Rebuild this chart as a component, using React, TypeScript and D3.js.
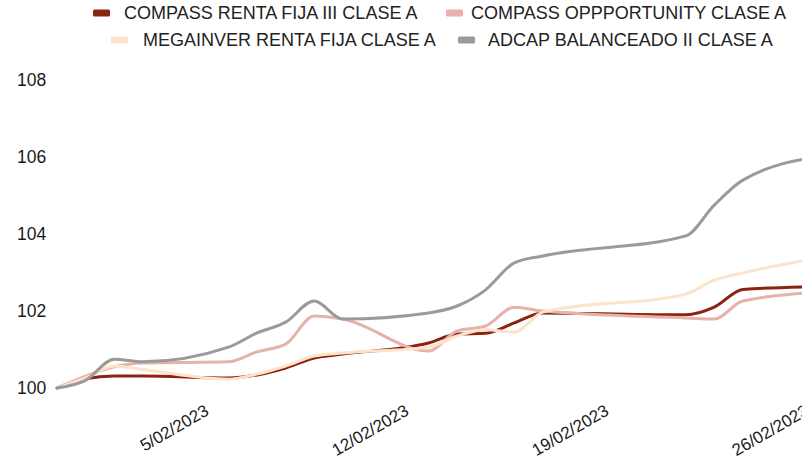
import React from 'react';
import { scaleLinear, scaleTime, line, curveMonotoneX, timeFormat } from 'd3';

const W = 802;
const H = 460;

// business days (Argentina, carnival 20-21/02 closed)
const dates = [
  '2023-01-31', '2023-02-01', '2023-02-02', '2023-02-03', '2023-02-06',
  '2023-02-07', '2023-02-08', '2023-02-09', '2023-02-10', '2023-02-13',
  '2023-02-14', '2023-02-15', '2023-02-16', '2023-02-17', '2023-02-22',
  '2023-02-23', '2023-02-24', '2023-02-27',
];

const compassRentaFija = [
  100, 100.24, 100.31, 100.31, 100.26, 100.34, 100.52, 100.78, 100.88, 101.17,
  101.4, 101.42, 101.69, 101.95, 101.9, 102.1, 102.56, 102.64,
];
const compassOpportunity = [
  100, 100.31, 100.55, 100.65, 100.68, 100.94, 101.14, 101.87, 101.79, 100.96,
  101.48, 101.61, 102.1, 102.0, 101.82, 101.79, 102.26, 102.5,
];
const megainver = [
  100, 100.26, 100.57, 100.48, 100.23, 100.36, 100.57, 100.83, 100.91, 101.06,
  101.35, 101.51, 101.45, 101.97, 102.44, 102.8, 102.99, 103.42,
];
const adcap = [
  100, 100.2, 100.75, 100.68, 101.06, 101.43, 101.71, 102.26, 101.79, 101.95,
  102.13, 102.55, 103.25, 103.43, 103.95, 104.75, 105.4, 106.05,
];

const seriesNames = [
  'COMPASS RENTA FIJA III CLASE A',
  'COMPASS OPPPORTUNITY CLASE A',
  'MEGAINVER RENTA FIJA CLASE A',
  'ADCAP BALANCEADO II CLASE A',
];
const seriesColors = ['#8b2311', '#e6b2a9', '#fce3ca', '#9a9a9a'];
const seriesValues = [compassRentaFija, compassOpportunity, megainver, adcap];

const yTicks = [100, 102, 104, 106, 108];
const xTicks = ['2023-02-05', '2023-02-12', '2023-02-19', '2023-02-26'];

// legend slots: [swatch x, text x, row y]
const legendPos = [
  [93, 124, 13],
  [446, 471, 13],
  [111, 143, 40],
  [458, 488, 40],
];

const parse = (s: string) => new Date(s + 'T00:00:00');
const fmt = timeFormat('%-d/%m/%Y');

const App: React.FC = () => {
  const x = scaleTime()
    .domain([parse('2023-01-31'), parse('2023-02-26')])
    .range([57, 800]);
  const y = scaleLinear().domain([100, 108]).range([388, 80]);

  const gen = line<number>()
    .x((_, i) => x(parse(dates[i])))
    .y((d) => y(d))
    .curve(curveMonotoneX);

  const font = 'Liberation Sans, Arial, sans-serif';

  return (
    <div style={{ position: 'fixed', left: 0, top: 0, width: W, height: H, overflow: 'hidden', background: '#fff' }}>
      <svg width={W} height={H} style={{ display: 'block' }} fontFamily={font}>
        {/* legend */}
        {seriesNames.map((name, i) => (
          <g key={name}>
            <rect
              x={legendPos[i][0]}
              y={legendPos[i][2] - 3.5}
              width={17}
              height={7}
              rx={1.5}
              fill={seriesColors[i]}
            />
            <text
              x={legendPos[i][1]}
              y={legendPos[i][2]}
              dy="0.36em"
              fontSize={18}
              fill="#222"
            >
              {name}
            </text>
          </g>
        ))}

        {/* y axis labels */}
        {yTicks.map((t) => (
          <text key={t} x={17} y={y(t)} dy="0.36em" fontSize={17.5} fill="#1a1a1a">
            {t}
          </text>
        ))}

        {/* x axis labels */}
        {xTicks.map((d) => {
          const px = x(parse(d)) + 10;
          return (
            <text
              key={d}
              transform={`translate(${px},414) rotate(-30)`}
              textAnchor="end"
              fontSize={17}
              fill="#1a1a1a"
            >
              {fmt(parse(d))}
            </text>
          );
        })}

        {/* lines */}
        {seriesValues.map((vals, i) => (
          <path
            key={seriesNames[i]}
            d={gen(vals) || ''}
            fill="none"
            stroke={seriesColors[i]}
            strokeWidth={3}
            strokeLinejoin="round"
            strokeLinecap="round"
          />
        ))}
      </svg>
    </div>
  );
};

export default App;
